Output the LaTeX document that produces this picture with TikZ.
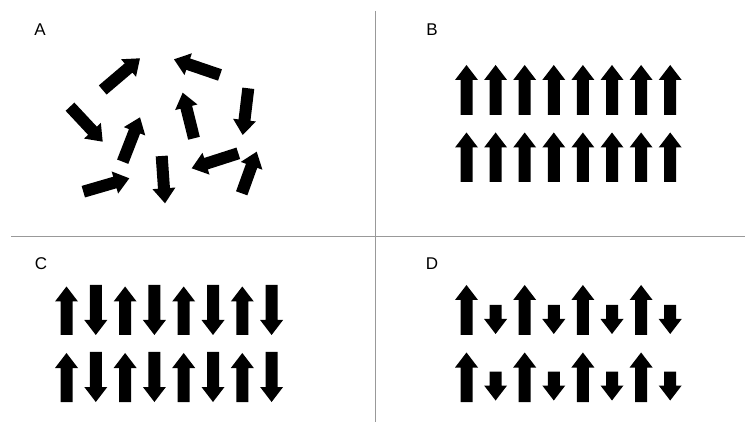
\documentclass[tikz,border=0pt]{standalone}
\usepackage{fontspec}
\setmainfont{Liberation Sans}

% Block arrow from (#1,#2) to (#3,#4): shaft 12 wide, head 23 wide, 15 long
\newcommand{\spinarrow}[4]{%
  \pgfmathsetmacro\sdx{#3-#1}%
  \pgfmathsetmacro\sdy{#4-#2}%
  \pgfmathsetmacro\sang{atan2(-\sdy,\sdx)}%
  \pgfmathsetmacro\slen{veclen(\sdx,\sdy)}%
  \pgfmathsetmacro\sneck{\slen-15}%
  \fill[spin, shift={(#1,#2)}, rotate=\sang]
    (0,-6) -- (\sneck,-6) -- (\sneck,-11.5) -- (\slen,0)
    -- (\sneck,11.5) -- (\sneck,6) -- (0,6) -- cycle;}

\tikzset{
  spin/.style={fill=black},
  divider/.style={draw=black!40, line width=1pt},
  panellabel/.style={font=\fontsize{17}{20}\selectfont, inner sep=0pt}
}

\begin{document}
\begin{tikzpicture}[x=1pt, y=-1pt]
  \useasboundingbox (0,0) rectangle (745,422);

  % quadrant dividers
  \draw[divider] (375.5,11) -- (375.5,422);
  \draw[divider] (11,237) -- (745,237);

  % panel letters
  \node[panellabel] (la) at (40,30) {A};
  \node[panellabel] (lb) at (432,30) {B};
  \node[panellabel] (lc) at (41,264) {C};
  \node[panellabel] (ld) at (432,264) {D};

  % A: randomly oriented moments
  \spinarrow{102.7}{90}{140}{58.3}
  \spinarrow{220}{75}{174}{59.3}
  \spinarrow{70}{106.7}{102.7}{141.7}
  \spinarrow{194}{138.3}{182.7}{92.7}
  \spinarrow{248.3}{88.3}{242.7}{135}
  \spinarrow{122.7}{161.7}{140}{117.3}
  \spinarrow{161.7}{156}{165}{203.3}
  \spinarrow{238.3}{153.3}{191.7}{168.3}
  \spinarrow{83.3}{191.7}{129.3}{178.3}
  \spinarrow{241.7}{193.3}{256.7}{151.7}

  % B: all moments parallel
  \foreach \i in {0,...,7} {
    \pgfmathsetmacro\xx{466.5+29.1*\i}
    \spinarrow{\xx}{115}{\xx}{65}
    \spinarrow{\xx}{182}{\xx}{132.5}
  }

  % C: equal moments, alternating
  \foreach \i in {0,2,4,6} {
    \pgfmathsetmacro\xu{66.5+29.3*\i}
    \pgfmathsetmacro\xd{66.5+29.3*(\i+1)}
    \spinarrow{\xu}{335}{\xu}{286.5}
    \spinarrow{\xd}{285}{\xd}{335}
    \spinarrow{\xu}{402}{\xu}{353}
    \spinarrow{\xd}{352}{\xd}{402}
  }

  % D: unequal moments, alternating
  \foreach \i in {0,2,4,6} {
    \pgfmathsetmacro\xu{466.5+29.1*\i}
    \pgfmathsetmacro\xd{466.5+29.1*(\i+1)}
    \spinarrow{\xu}{335}{\xu}{285}
    \spinarrow{\xd}{305}{\xd}{334}
    \spinarrow{\xu}{402}{\xu}{352.5}
    \spinarrow{\xd}{371.5}{\xd}{400.5}
  }
\end{tikzpicture}
\end{document}
